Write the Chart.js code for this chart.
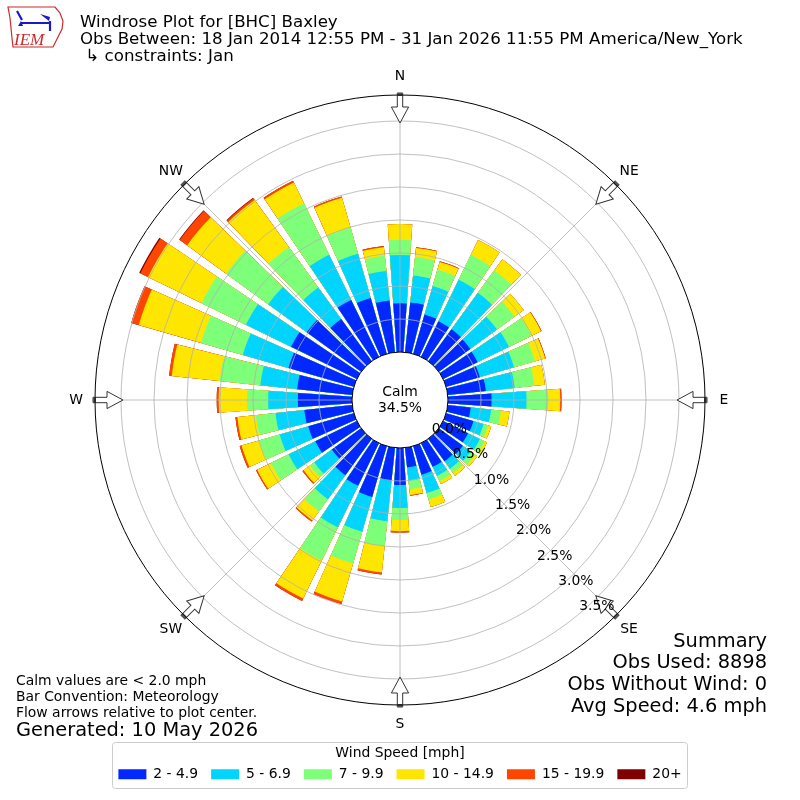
<!DOCTYPE html>
<html>
<head>
<meta charset="utf-8">
<title>Windrose Plot for [BHC] Baxley</title>
<script src="https://cdn.jsdelivr.net/npm/chart.js@4/dist/chart.umd.min.js"></script>
<style>
  html, body { margin: 0; padding: 0; background: #fff; }
  #rose { display: block; }
</style>
</head>
<body>
<canvas id="rose" width="800" height="800"></canvas>
<script>
// ==========================
// DATA (percent of all observations)
// ==========================
const directions = [0, 10, 20, 30, 40, 50, 60, 70, 80, 90, 100, 110,
    120, 130, 140, 150, 160, 170, 180, 190, 200, 210, 220, 230,
    240, 250, 260, 270, 280, 290, 300, 310, 320, 330, 340, 350];

const speedBins = ['2 - 4.9', '5 - 6.9', '7 - 9.9', '10 - 14.9', '15 - 19.9', '20+'];

const speed2to5 = [0.74, 0.76, 0.62, 0.60, 0.60, 0.59, 0.58, 0.53, 0.58, 0.66, 0.35, 0.43,
    0.42, 0.45, 0.42, 0.40, 0.45, 0.30, 0.56, 0.50, 0.80, 0.72, 0.68, 0.55,
    0.70, 0.72, 0.73, 0.82, 0.84, 1.03, 1.11, 1.02, 0.79, 0.96, 0.88, 0.79];
const speed5to7 = [0.73, 0.41, 0.45, 0.70, 0.68, 0.50, 0.53, 0.54, 0.44, 0.53, 0.31, 0.16,
    0.20, 0.15, 0.14, 0.15, 0.29, 0.20, 0.35, 0.62, 0.55, 0.70, 0.45, 0.33,
    0.45, 0.45, 0.44, 0.45, 0.56, 0.72, 0.76, 0.72, 0.59, 0.76, 0.70, 0.45];
const speed7to10 = [0.23, 0.28, 0.26, 0.42, 0.42, 0.33, 0.38, 0.33, 0.30, 0.33, 0.15, 0.07,
    0.08, 0.08, 0.08, 0.09, 0.10, 0.13, 0.18, 0.38, 0.50, 0.56, 0.23, 0.08,
    0.30, 0.32, 0.30, 0.32, 0.62, 0.66, 0.75, 0.79, 0.76, 0.87, 0.41, 0.23];
const speed10to15 = [0.24, 0.14, 0.12, 0.25, 0.21, 0.17, 0.16, 0.16, 0.16, 0.18, 0.13, 0.05,
    0.04, 0.04, 0.05, 0.05, 0.12, 0.09, 0.17, 0.40, 0.60, 0.64, 0.17, 0.12,
    0.23, 0.28, 0.28, 0.43, 0.73, 0.98, 0.90, 0.73, 0.88, 0.35, 0.47, 0.13];
const speed15to20 = [0.00, 0.01, 0.01, 0.00, 0.00, 0.00, 0.01, 0.01, 0.00, 0.02, 0.00, 0.00,
    0.00, 0.00, 0.00, 0.00, 0.00, 0.01, 0.02, 0.03, 0.04, 0.04, 0.02, 0.02,
    0.02, 0.03, 0.03, 0.03, 0.04, 0.12, 0.13, 0.14, 0.03, 0.03, 0.02, 0.02];
const speed20up = [0, 0, 0, 0, 0, 0, 0, 0, 0, 0, 0, 0,
    0, 0, 0, 0, 0, 0, 0, 0, 0, 0, 0, 0,
    0, 0, 0, 0, 0, 0, 0.02, 0.01, 0.01, 0, 0, 0];

const radialTicks = [0, 0.5, 1.0, 1.5, 2.0, 2.5, 3.0, 3.5];
const compassNames = ['N', 'NE', 'E', 'SE', 'S', 'SW', 'W', 'NW'];

const calmPercent = 34.5;
const obsUsed = 8898;
const obsWithoutWind = 0;
const avgSpeed = 4.6;

// ==========================
// STYLE
// ==========================
const FONT = '"DejaVu Sans", "Noto Sans", sans-serif';
const colors = ['#0028ff', '#00d4ff', '#7dff7a', '#ffe600', '#ff4600', '#800000'];
const GRID = '#b0b0b0';
const BAR_OPENING = 0.8;          // fraction of the 10 degree sector used by a bar
const LABEL_ANGLE = 140.3;        // where the percent labels sit
const deg = d => d * Math.PI / 180;

Chart.defaults.font.family = FONT;
Chart.defaults.color = '#000';

// stacked bars: draw the running total of each band, smallest total on top
const bands = [speed2to5, speed5to7, speed7to10, speed10to15, speed15to20, speed20up];
const cumulative = bands.map((_, k) =>
    directions.map((d, i) => bands.slice(0, k + 1).reduce((s, b) => s + b[i], 0)));

// ==========================
// DECORATION PLUGIN
// ==========================
function drawArrow(ctx, cx, cy, angle) {
    ctx.save();
    ctx.translate(cx, cy);
    ctx.rotate(deg(angle));
    ctx.beginPath();
    ctx.moveTo(-2.7, -307);
    ctx.lineTo(2.7, -307);
    ctx.lineTo(2.7, -293);
    ctx.lineTo(8.6, -293);
    ctx.lineTo(0, -277);
    ctx.lineTo(-8.6, -293);
    ctx.lineTo(-2.7, -293);
    ctx.closePath();
    ctx.fillStyle = '#fff';
    ctx.fill();
    ctx.strokeStyle = '#333';
    ctx.lineWidth = 1;
    ctx.stroke();
    ctx.fillStyle = '#555';
    ctx.fillRect(-2.7, -307, 5.4, 3);
    ctx.restore();
}

function drawLogo(ctx) {
    ctx.save();
    ctx.strokeStyle = '#cc2a2a';
    ctx.lineWidth = 1.2;
    ctx.beginPath();
    const outline = [[8, 7], [55, 7], [60, 13], [63, 21], [62, 29], [59, 35], [56, 41],
        [53, 47], [13, 47], [12, 38], [11, 28], [10, 18]];
    outline.forEach(([x, y], i) => i ? ctx.lineTo(x, y) : ctx.moveTo(x, y));
    ctx.closePath();
    ctx.stroke();

    ctx.strokeStyle = '#1a1acc';
    ctx.fillStyle = '#1a1acc';
    ctx.lineWidth = 2.2;
    ctx.beginPath();
    ctx.moveTo(21, 23); ctx.lineTo(50, 23);
    ctx.moveTo(17, 11); ctx.lineTo(22, 20);
    ctx.moveTo(50, 21); ctx.lineTo(50, 31);
    ctx.stroke();
    ctx.beginPath();
    ctx.moveTo(40, 14); ctx.lineTo(50, 17); ctx.lineTo(49, 21); ctx.closePath();
    ctx.fill();
    ctx.beginPath();
    ctx.moveTo(18, 26); ctx.lineTo(21, 21); ctx.lineTo(23, 26); ctx.closePath();
    ctx.fill();

    ctx.fillStyle = '#cc2a2a';
    ctx.font = 'italic 17px "Liberation Serif", serif';
    ctx.textAlign = 'left';
    ctx.textBaseline = 'alphabetic';
    ctx.fillText('IEM', 14, 45);
    ctx.restore();
}

const rosePlugin = {
    id: 'rose',
    // narrow each wedge so neighbouring bars are separated
    afterDatasetsUpdate(chart) {
        const trim = (1 - BAR_OPENING) / 2 * (2 * Math.PI / directions.length);
        chart.data.datasets.forEach((ds, i) => {
            chart.getDatasetMeta(i).data.forEach(arc => {
                arc.startAngle += trim;
                arc.endAngle -= trim;
            });
        });
    },
    afterDatasetsDraw(chart) {
        const { ctx } = chart;
        const r = chart.scales.r;
        const cx = r.xCenter, cy = r.yCenter;
        const r0 = r.getDistanceFromCenterForValue(0);
        const rMax = r.drawingArea;
        ctx.save();

        // spokes every 45 degrees
        ctx.strokeStyle = GRID;
        ctx.lineWidth = 0.8;
        for (let a = 0; a < 360; a += 45) {
            ctx.beginPath();
            ctx.moveTo(cx + r0 * Math.sin(deg(a)), cy - r0 * Math.cos(deg(a)));
            ctx.lineTo(cx + rMax * Math.sin(deg(a)), cy - rMax * Math.cos(deg(a)));
            ctx.stroke();
        }

        // calm circle
        ctx.beginPath();
        ctx.arc(cx, cy, r0, 0, 2 * Math.PI);
        ctx.fillStyle = '#fff';
        ctx.fill();
        ctx.strokeStyle = '#000';
        ctx.lineWidth = 1;
        ctx.stroke();

        ctx.fillStyle = '#000';
        ctx.font = '13.9px ' + FONT;
        ctx.textAlign = 'center';
        ctx.textBaseline = 'middle';
        ctx.fillText('Calm', cx, cy - 8);
        ctx.fillText(calmPercent.toFixed(1) + '%', cx, cy + 8);
        ctx.restore();
    },
    afterDraw(chart) {
        const { ctx } = chart;
        const r = chart.scales.r;
        const cx = r.xCenter, cy = r.yCenter;
        const rMax = r.drawingArea;
        ctx.save();

        // flow arrows and compass names
        ctx.font = '13.9px ' + FONT;
        ctx.textAlign = 'center';
        ctx.textBaseline = 'middle';
        compassNames.forEach((name, i) => {
            const a = i * 45;
            drawArrow(ctx, cx, cy, a);
            ctx.fillStyle = '#000';
            ctx.fillText(name, cx + 324 * Math.sin(deg(a)), cy - 324 * Math.cos(deg(a)));
        });

        // percent labels along one ray
        ctx.fillStyle = '#000';
        radialTicks.forEach(v => {
            const d = r.getDistanceFromCenterForValue(v);
            ctx.fillText(v.toFixed(1) + '%',
                cx + d * Math.sin(deg(LABEL_ANGLE)) + 18.7,
                cy - d * Math.cos(deg(LABEL_ANGLE)) - 7.8);
        });

        // outer frame of the polar axes
        ctx.beginPath();
        ctx.arc(cx, cy, rMax, 0, 2 * Math.PI);
        ctx.strokeStyle = '#000';
        ctx.lineWidth = 1;
        ctx.stroke();

        // legend frame
        const lg = chart.legend;
        ctx.beginPath();
        ctx.roundRect(112.5, lg.top + 0.5, 575, 46, 3);
        ctx.strokeStyle = '#cccccc';
        ctx.lineWidth = 1;
        ctx.stroke();

        // header
        drawLogo(ctx);
        ctx.fillStyle = '#000';
        ctx.textAlign = 'left';
        ctx.textBaseline = 'alphabetic';
        ctx.font = '16.67px ' + FONT;
        ctx.fillText('Windrose Plot for [BHC] Baxley', 80, 26.5);
        ctx.fillText('Obs Between: 18 Jan 2014 12:55 PM - 31 Jan 2026 11:55 PM America/New_York', 80, 43.5);
        ctx.fillText(' \u21b3 constraints: Jan', 80, 60.5);

        // footer, left
        ctx.font = '13.9px ' + FONT;
        ctx.fillText('Calm values are < 2.0 mph', 16, 685);
        ctx.fillText('Bar Convention: Meteorology', 16, 701);
        ctx.fillText('Flow arrows relative to plot center.', 16, 716.5);
        ctx.font = '19.4px ' + FONT;
        ctx.fillText('Generated: 10 May 2026', 16, 735.5);

        // footer, right
        ctx.textAlign = 'right';
        ctx.fillText('Summary', 767, 646.7);
        ctx.fillText('Obs Used: ' + obsUsed, 767, 668.4);
        ctx.fillText('Obs Without Wind: ' + obsWithoutWind, 767, 690.1);
        ctx.fillText('Avg Speed: ' + avgSpeed.toFixed(1) + ' mph', 767, 711.8);
        ctx.restore();
    }
};

// ==========================
// INIT WINDROSE CHART
// ==========================
document.addEventListener('DOMContentLoaded', () => {
    const canvas = document.getElementById('rose');
    if (!canvas) return;

    new Chart(canvas, {
        type: 'polarArea',
        data: {
            labels: directions.map(d => d + '\u00b0'),
            datasets: speedBins.map((label, k) => ({
                label,
                data: cumulative[k],
                backgroundColor: colors[k],
                borderWidth: 0
            }))
        },
        options: {
            responsive: false,
            animation: false,
            layout: {
                padding: { top: 58, left: 95, right: 95, bottom: 8.75 }
            },
            scales: {
                r: {
                    min: -0.727,
                    max: 3.894,
                    startAngle: -5,
                    ticks: { display: false, stepSize: 0.5, includeBounds: false },
                    grid: {
                        z: 1,
                        circular: true,
                        lineWidth: 0.8,
                        color: ctx => ctx.tick && ctx.tick.value > 0 ? GRID : 'rgba(0,0,0,0)'
                    },
                    angleLines: { display: false },
                    pointLabels: { display: false }
                }
            },
            plugins: {
                tooltip: { enabled: false },
                legend: {
                    position: 'bottom',
                    onClick: null,
                    title: {
                        display: true,
                        text: 'Wind Speed [mph]',
                        color: '#000',
                        font: { size: 13.9 },
                        padding: { top: 4.35, bottom: -8.68 }
                    },
                    labels: {
                        boxWidth: 28,
                        boxHeight: 10,
                        padding: 13,
                        color: '#000',
                        font: { size: 13.9 },
                        generateLabels: chart => chart.data.datasets.map((ds, i) => ({
                            text: ds.label,
                            fillStyle: ds.backgroundColor,
                            strokeStyle: ds.backgroundColor,
                            lineWidth: 0,
                            hidden: false,
                            datasetIndex: i
                        }))
                    }
                }
            }
        },
        plugins: [rosePlugin]
    });
});
</script>
</body>
</html>
